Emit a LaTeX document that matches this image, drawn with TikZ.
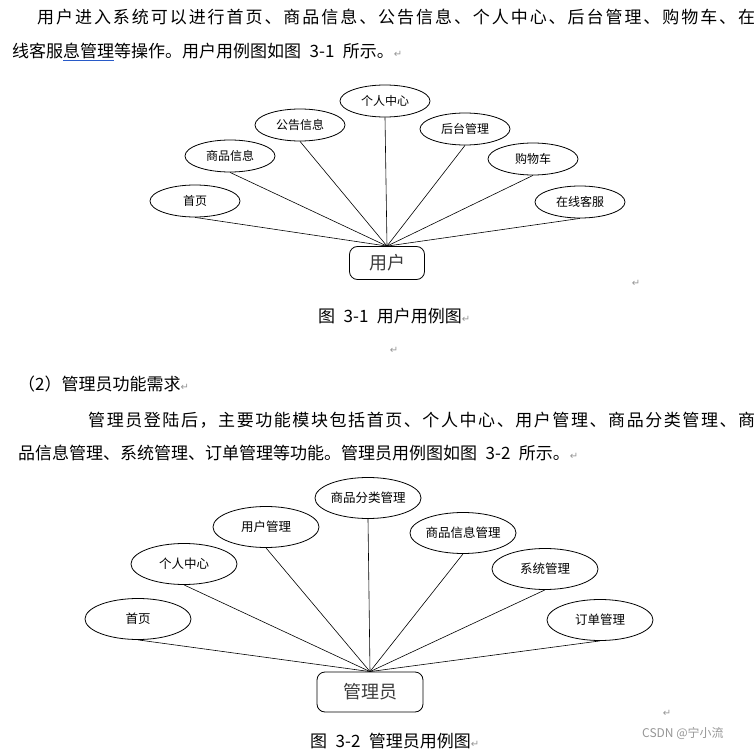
\documentclass[tikz,border=0pt]{standalone}
\usepackage{fontspec}
\usepackage{xcolor}
\usepackage{tikz}
\usetikzlibrary{shapes.geometric,positioning}
\setmainfont{Noto Sans CJK SC}
\newfontfamily\markfont{DejaVu Sans}
\definecolor{actorgray}{RGB}{60,60,60}
\definecolor{markgray}{RGB}{150,150,150}
\definecolor{linkblue}{RGB}{40,90,200}
\newcommand{\retmark}{{\markfont\fontsize{10pt}{10pt}\selectfont\textcolor{markgray}{↵}}}
\newcommand{\linkword}[1]{\setbox0\hbox{#1}\rlap{\textcolor{linkblue}{\rule[-4pt]{\wd0}{0.9pt}}}\box0}
\def\spreadloop#1{\ifx\relax#1\else#1\hfil\expandafter\spreadloop\fi}
\newcommand{\spreadline}[2]{\hbox to #1{\spreadloop#2\relax\unskip}}

\begin{document}
\begin{tikzpicture}[
  x=1pt, y=-1pt,
  body/.style={anchor=west, inner sep=0pt, font=\fontsize{17pt}{20pt}\selectfont},
  usecase/.style={draw, ellipse, line width=0.8pt, inner sep=0pt,
                  minimum width=90pt, minimum height=32pt, font=\fontsize{12pt}{14pt}\selectfont},
  usecasewide/.style={usecase, minimum width=106pt, minimum height=41pt, font=\fontsize{12.5pt}{14pt}\selectfont},
  actorbox/.style={draw, rounded corners=8pt, line width=0.8pt, inner sep=0pt,
                   text=actorgray, font=\fontsize{18pt}{20pt}\selectfont},
  link/.style={line width=0.6pt}
]
\useasboundingbox (0,0) rectangle (756,749);

% first paragraph
\node[body] (intro1) at (37,17) {\spreadline{718pt}{用户进入系统可以进行首页、商品信息、公告信息、个人中心、后台管理、购物车、在}};
\node[body] (intro2) at (12,52) {线客服\linkword{息管理}等操作。用户用例图如图\enspace 3-1\enspace 所示。\retmark};

% user use cases
\node[usecase] (uhome) at (195,201) {首页};
\node[usecase] (ugoods) at (230,156) {商品信息};
\node[usecase] (unotice) at (300,125) {公告信息};
\node[usecase] (ucenter) at (385,101) {个人中心};
\node[usecase] (uadmin) at (465,129) {后台管理};
\node[usecase] (ucart) at (533,159) {购物车};
\node[usecase] (uservice) at (580,202) {在线客服};
\node[actorbox, minimum width=75pt, minimum height=33pt] (user) at (387,263) {用户};

\draw[link] (uhome.south) -- (user.north);
\draw[link] (ugoods.south) -- (user.north);
\draw[link] (unotice.south) -- (user.north);
\draw[link] (ucenter.south) -- (user.north);
\draw[link] (uadmin.south) -- (user.north);
\draw[link] (ucart.south) -- (user.north);
\draw[link] (uservice.south) -- (user.north);

\node[inner sep=0pt] (ret1) at (636,283) {\retmark};
\node[body] (cap1) at (318,316) {图\enspace 3-1\enspace 用户用例图\retmark};
\node[inner sep=0pt] (ret2) at (394,350) {\retmark};

% second paragraph
\node[body] (sec2) at (18,384) {（2）管理员功能需求\retmark};
\node[body] (intro3) at (88,420) {\spreadline{667pt}{管理员登陆后，主要功能模块包括首页、个人中心、用户管理、商品分类管理、商}};
\node[body] (intro4) at (18,453) {品信息管理、系统管理、订单管理等功能。管理员用例图如图\enspace 3-2\enspace 所示。\retmark};

% admin use cases
\node[usecasewide] (ahome) at (138,619) {首页};
\node[usecasewide] (acenter) at (184,564) {个人中心};
\node[usecasewide] (ausers) at (266,527) {用户管理};
\node[usecasewide] (acategory) at (368,498) {商品分类管理};
\node[usecasewide] (agoods) at (463,533) {商品信息管理};
\node[usecasewide] (asystem) at (545,569) {系统管理};
\node[usecasewide] (aorders) at (600,620) {订单管理};
\node[actorbox, minimum width=106pt, minimum height=40pt] (admin) at (370,692) {管理员};

\draw[link] (ahome.south) -- (admin.north);
\draw[link] (acenter.south) -- (admin.north);
\draw[link] (ausers.south) -- (admin.north);
\draw[link] (acategory.south) -- (admin.north);
\draw[link] (agoods.south) -- (admin.north);
\draw[link] (asystem.south) -- (admin.north);
\draw[link] (aorders.south) -- (admin.north);

\node[inner sep=0pt] (ret3) at (667,713) {\retmark};
\node[body] (cap2) at (310,741) {图\enspace 3-2\enspace 管理员用例图\retmark};
\node[anchor=west, inner sep=0pt, text=markgray, font=\fontsize{12pt}{14pt}\selectfont] (mark) at (642,733) {CSDN @宁小流};
\end{tikzpicture}
\end{document}
